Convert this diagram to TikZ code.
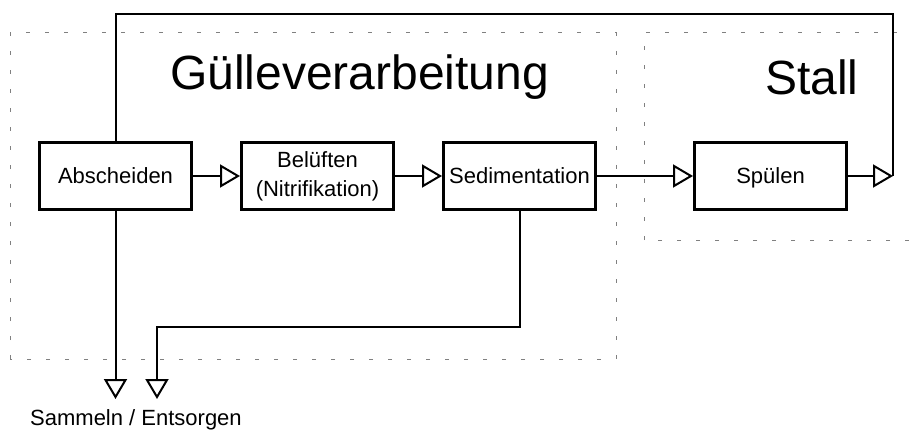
\documentclass[tikz,border=0pt]{standalone}
\usepackage{fontspec}
\setmainfont{Liberation Sans}
\usetikzlibrary{arrows.meta, positioning}

\begin{document}
\begin{tikzpicture}[
    x=1pt, y=1pt,
    every node/.style={font=\fontsize{22}{29}\selectfont},
    box/.style={rectangle, draw, line width=3pt, minimum width=152pt, minimum height=67pt, inner sep=0pt, align=center, text height=17pt, text depth=3pt},
    zone/.style={draw=gray, line width=1pt, dash pattern=on 4pt off 15pt},
    title/.style={font=\fontsize{48}{58}\selectfont, inner sep=0pt, anchor=base west},
    flow/.style={-{Triangle[open, length=20pt, width=23pt]}, line width=2pt},
    link/.style={line width=2pt}
]
\useasboundingbox (0,0) rectangle (909,429);

% Bereiche
\draw[zone] (10,70) rectangle (616,396);
\draw[zone] (644,189) rectangle (940,396);
\node[title] (lgulle) at (170,339) {Gülleverarbeitung};
\node[title] (lstall) at (765,334) {Stall};

% Prozessschritte
\node[box] (absch) at (115.5,253) {Abscheiden};
\node[box, right=47pt of absch, text height={}, text depth={}] (belueft) {Belüften\\(Nitrifikation)};
\node[box, right=47pt of belueft] (sedi) {Sedimentation};
\node[box, right=96pt of sedi] (spuelen) {Spülen};

\draw[flow] (absch) -- (belueft);
\draw[flow] (belueft) -- (sedi);
\draw[flow] (sedi) -- (spuelen);

% Rueckfuehrung
\coordinate (ret) at (893,253);
\coordinate (top) at (893,415);
\draw[flow] (spuelen) -- (ret);
\draw[link] (ret) -- (top) -| (absch.north);

% Abgabe
\coordinate (out1) at (115.5,30);
\coordinate (out2) at (157,30);
\coordinate (knee) at (157,102);
\draw[flow] (absch.south) -- (out1);
\draw[flow] (sedi.south) |- (knee) -- (out2);
\node[anchor=base west, inner sep=0pt] (sammeln) at (30,4) {Sammeln / Entsorgen};
\end{tikzpicture}
\end{document}
